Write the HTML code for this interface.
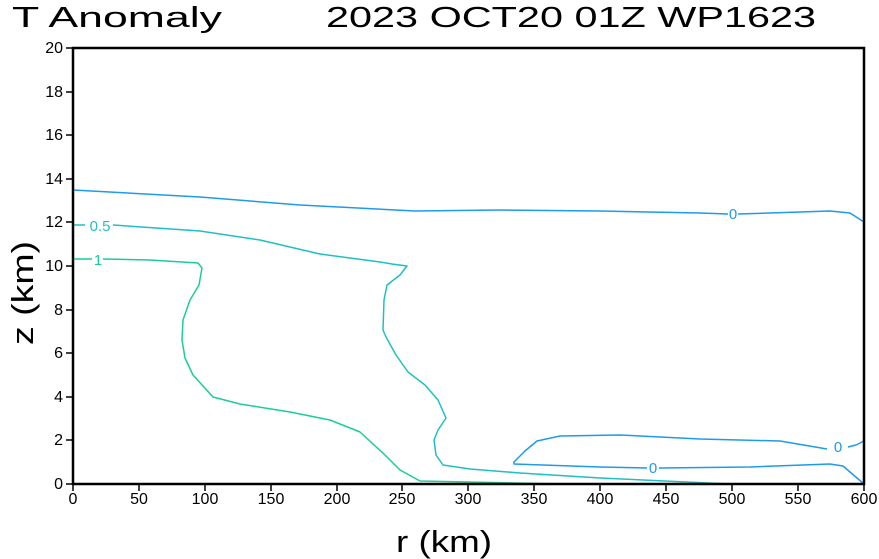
<!DOCTYPE html>
<html><head><style>
body{margin:0;background:#fff;}
svg{display:block;font-family:"Liberation Sans",sans-serif;}
</style></head><body>
<svg width="879" height="559" viewBox="0 0 879 559">
<text x="12" y="27" font-size="29" fill="#000" textLength="210" lengthAdjust="spacingAndGlyphs">T Anomaly</text>
<text x="326" y="27" font-size="29" fill="#000" textLength="490" lengthAdjust="spacingAndGlyphs">2023 OCT20 01Z   WP1623</text>
<g fill="none" stroke-width="1.5" stroke-linejoin="round">
<path stroke="#1e9be8" d="M73,190 L200,197 L300,205 L415,211 L500,210 L600,211 L700,213 L728,214 M738,214 L800,212 L830,211 L850,213 L864,222"/>
<path stroke="#1e9be8" d="M827,449 L780,441 L700,439 L620,435 L560,436 L537,441 L525,451 L514,462 L514,464 L600,467 L647,468 M659,468 L750,467 L830,464 L843,466 L864,484"/>
<path stroke="#1e9be8" d="M848,447 L856,445 L864,441"/>
<path stroke="#1fbfc4" d="M73,225 L85,225 M113,225 L200,231 L260,240 L320,254 L380,262 L392,264 L407,266 L400,275 L387,285 L384,300 L383,330 L386,337 L396,355 L408,372 L425,385 L438,400 L446,418 L438,430 L434,440 L436,455 L443,465 L470,469 L520,473 L600,478 L730,484"/>
<path stroke="#1ccc9a" d="M73,259 L92,259 M103,259 L150,260 L198,263 L202,268 L199,285 L190,300 L183,320 L182,340 L185,358 L193,375 L213,397 L240,404 L290,412 L330,420 L360,432 L385,455 L400,470 L420,481 L560,484"/>
</g>
<text x="733" y="219" font-size="15" fill="#1e9be8" text-anchor="middle">0</text>
<text x="653" y="473" font-size="15" fill="#1e9be8" text-anchor="middle">0</text>
<text x="838" y="452" font-size="15" fill="#1e9be8" text-anchor="middle">0</text>
<text x="100" y="231" font-size="15" fill="#1fbfc4" text-anchor="middle">0.5</text>
<text x="98" y="265" font-size="15" fill="#1ccc9a" text-anchor="middle">1</text>
<rect x="73" y="48" width="791" height="436" fill="none" stroke="#000" stroke-width="2.5"/>
<g stroke="#000" stroke-width="1.5">
<path d="M66,48H73M66,92H73M66,135H73M66,179H73M66,222H73M66,266H73M66,310H73M66,353H73M66,397H73M66,440H73M66,484H73"/>
<path d="M73,484V491M139,484V491M205,484V491M271,484V491M337,484V491M402,484V491M468,484V491M534,484V491M600,484V491M666,484V491M732,484V491M798,484V491M864,484V491"/>
</g>
<g font-size="16" text-anchor="end" fill="#000">
<text x="63" y="53">20</text><text x="63" y="97">18</text><text x="63" y="140">16</text><text x="63" y="184">14</text><text x="63" y="227">12</text><text x="63" y="271">10</text><text x="63" y="315">8</text><text x="63" y="358">6</text><text x="63" y="402">4</text><text x="63" y="445">2</text><text x="63" y="489">0</text>
</g>
<g font-size="16" text-anchor="middle" fill="#000">
<text x="73" y="504">0</text><text x="139" y="504">50</text><text x="205" y="504">100</text><text x="271" y="504">150</text><text x="337" y="504">200</text><text x="402" y="504">250</text><text x="468" y="504">300</text><text x="534" y="504">350</text><text x="600" y="504">400</text><text x="666" y="504">450</text><text x="732" y="504">500</text><text x="798" y="504">550</text><text x="864" y="504">600</text>
</g>
<text x="396" y="552" font-size="31" fill="#000" textLength="96" lengthAdjust="spacingAndGlyphs">r (km)</text>
<text transform="translate(33,345) rotate(-90)" font-size="31" fill="#000" textLength="104" lengthAdjust="spacingAndGlyphs">z (km)</text>
</svg>
</body></html>
